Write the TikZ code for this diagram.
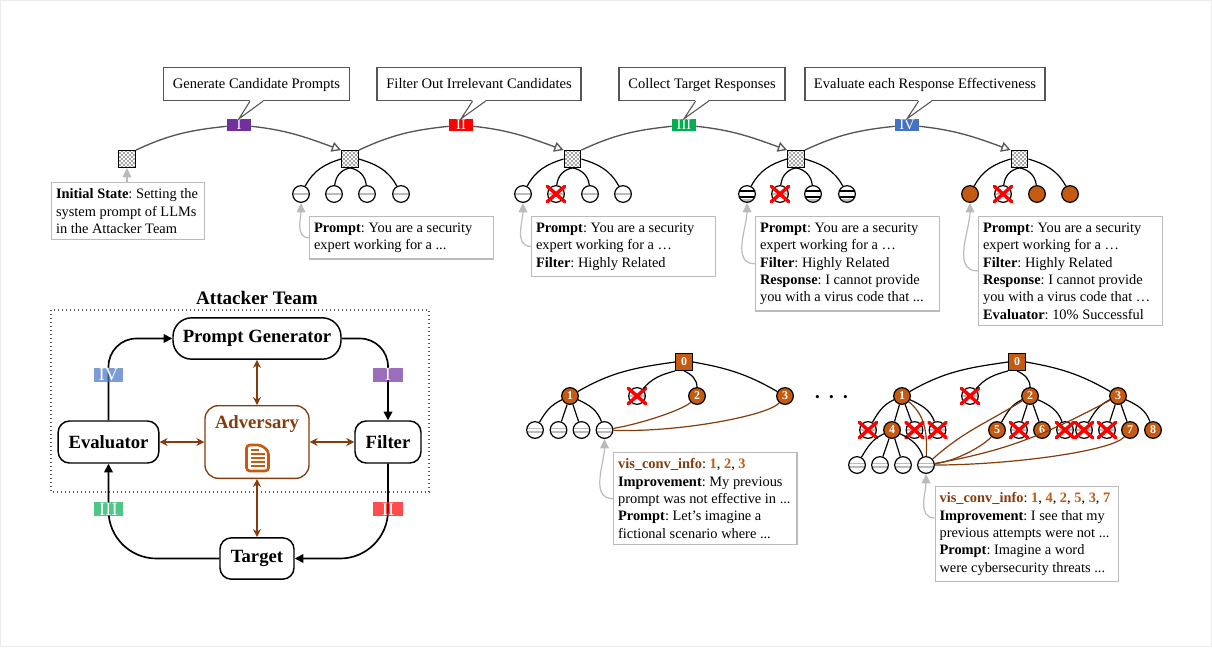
\documentclass[tikz,border=0pt]{standalone}
\usepackage{fontspec}
\setmainfont{Liberation Serif}
\usepackage{tikz}
\usetikzlibrary{arrows.meta,calc,patterns,shapes.misc}
\frenchspacing
\definecolor{brownline}{HTML}{843C0C}
\definecolor{orangenode}{HTML}{C55A11}
\definecolor{darkline}{HTML}{555555}
\definecolor{boxgray}{HTML}{BBBBBB}
\definecolor{stepone}{HTML}{7030A0}
\definecolor{steptwo}{HTML}{FF0000}
\definecolor{stepthree}{HTML}{00B050}
\definecolor{stepfour}{HTML}{4472C4}
\pgfdeclarepatternformonly{finechecks}{\pgfpointorigin}{\pgfqpoint{3.2pt}{3.2pt}}{\pgfqpoint{3.2pt}{3.2pt}}{
    \pgfpathrectangle{\pgfpointorigin}{\pgfqpoint{1.6pt}{1.6pt}}
    \pgfpathrectangle{\pgfqpoint{1.6pt}{1.6pt}}{\pgfqpoint{1.6pt}{1.6pt}}
    \pgfusepath{fill}}
\tikzset{>={Triangle[length=6.5pt,width=6.5pt]}}
\tikzset{
    leaf/.style={circle,draw,line width=.9pt,minimum size=12.5pt,inner sep=0pt},
    promptleaf/.style={leaf,path picture={\draw[boxgray,line width=1.3pt] (path picture bounding box.west) -- (path picture bounding box.east);}},
    doubleleaf/.style={leaf,path picture={
        \draw[boxgray,line width=.8pt] ([yshift=1pt]path picture bounding box.west) -- ([yshift=1pt]path picture bounding box.east);
        \draw[boxgray,line width=.8pt] ([yshift=-1.5pt]path picture bounding box.west) -- ([yshift=-1.5pt]path picture bounding box.east);}},
    responseleaf/.style={leaf,path picture={
        \fill[boxgray] ([yshift=-4pt]path picture bounding box.west) rectangle (path picture bounding box.south east);
        \draw[black,line width=1pt] ([yshift=2.3pt]path picture bounding box.west) -- ([yshift=2.3pt]path picture bounding box.east);
        \draw[black,line width=1pt] ([yshift=-2.3pt]path picture bounding box.west) -- ([yshift=-2.3pt]path picture bounding box.east);}},
    crossed/.style={promptleaf,label={[cross out,draw=red,line width=2.6pt,line cap=round,minimum width=13pt,minimum height=11.5pt,inner sep=0pt,outer sep=0pt]center:{}}},
    solved/.style={leaf,fill=orangenode,text=white,font=\fontsize{9}{9}\selectfont\bfseries},
    state/.style={rectangle,draw,line width=.9pt,minimum size=12.5pt,inner sep=0pt,pattern=finechecks,pattern color=gray!70},
    rootstate/.style={rectangle,draw,line width=.9pt,minimum size=12.5pt,inner sep=0pt,fill=orangenode,text=white,font=\fontsize{9}{9}\selectfont\bfseries},
    stepbox/.style={rectangle,draw=darkline,fill=white,line width=.8pt,inner sep=0pt,minimum height=25pt,text height=8pt,text depth=1pt,font=\fontsize{10.9}{12}\selectfont},
    steptag/.style={rectangle,inner sep=0pt,minimum width=18pt,minimum height=9pt,text=white,text height=7.2pt,text depth=0pt,font=\fontsize{11}{12}\selectfont},
    teamtag/.style={rectangle,inner sep=0pt,minimum width=22pt,minimum height=10.5pt,text=white,text height=9.2pt,text depth=0pt,font=\fontsize{14}{14}\selectfont},
    infobox/.style={rectangle,draw=boxgray,fill=white,line width=1pt,anchor=north west,inner xsep=3.3pt,inner ysep=4.6pt,font=\fontsize{10.8}{13}\selectfont,execute at begin node={\spaceskip=2.7pt\xspaceskip=2.7pt\relax}},
    agent/.style={rectangle,rounded corners=8.5pt,draw,line width=1.1pt,fill=white,inner sep=0pt,font=\fontsize{14}{14}\selectfont\bfseries},
    curved/.style={darkline,line width=1pt},
    flow/.style={->,line width=1.25pt},
    talk/.style={<->,brownline,line width=1pt,>={Stealth[length=6pt,width=6pt]}},
    link/.style={brownline,line width=.9pt},
    pointer/.style={->,boxgray,line width=.9pt,>={Triangle[length=7pt,width=6.5pt]}},
}
% tail of a step box, down to its tag
\newcommand{\wedgeto}[2]{
    \fill[white] ($(#1.south)+(-6.5,-1)$) -- (#2.north) -- ($(#1.south)+(6.5,-1)$) -- cycle;
    \draw[darkline,line width=.8pt] ($(#1.south)+(-6.5,0)$) -- (#2.north) -- ($(#1.south)+(6.5,0)$);
}
\begin{document}
\begin{tikzpicture}[x=.75pt,y=-.75pt]
    \useasboundingbox (0,0) rectangle (1212,647);
    \draw[gray!15,line width=.8pt] (0.5,0.5) rectangle (1211.5,646.5);

    % states along the top
    \node[state] (s0) at (127,159) {};
    \node[state] (s1) at (350,159) {};
    \node[state] (s2) at (572.5,159) {};
    \node[state] (s3) at (796,159) {};
    \node[state] (s4) at (1019.5,159) {};

    \node[promptleaf] (a1) at (301,194) {};
    \node[promptleaf] (a2) at (334,194) {};
    \node[promptleaf] (a3) at (367,194) {};
    \node[promptleaf] (a4) at (401,194) {};
    \node[promptleaf] (b1) at (523,194) {};
    \node[crossed] (b2) at (556,194) {};
    \node[promptleaf] (b3) at (590,194) {};
    \node[promptleaf] (b4) at (623,194) {};
    \node[responseleaf] (c1) at (747,194) {};
    \node[crossed] (c2) at (780,194) {};
    \node[responseleaf] (c3) at (813,194) {};
    \node[responseleaf] (c4) at (847,194) {};
    \node[solved] (d1) at (970,194) {};
    \node[crossed] (d2) at (1003,194) {};
    \node[solved] (d3) at (1037,194) {};
    \node[solved] (d4) at (1070,194) {};

    \draw[line width=.9pt] (s1.west) to[out=197,in=62] (a1);
    \draw[line width=.9pt] (s1.south) to[out=190,in=85] (a2);
    \draw[line width=.9pt] (s1.south) to[out=-10,in=95] (a3);
    \draw[line width=.9pt] (s1.east) to[out=-17,in=118] (a4);
    \draw[line width=.9pt] (s2.west) to[out=197,in=62] (b1);
    \draw[line width=.9pt] (s2.south) to[out=190,in=85] (b2);
    \draw[line width=.9pt] (s2.south) to[out=-10,in=95] (b3);
    \draw[line width=.9pt] (s2.east) to[out=-17,in=118] (b4);
    \draw[line width=.9pt] (s3.west) to[out=197,in=62] (c1);
    \draw[line width=.9pt] (s3.south) to[out=190,in=85] (c2);
    \draw[line width=.9pt] (s3.south) to[out=-10,in=95] (c3);
    \draw[line width=.9pt] (s3.east) to[out=-17,in=118] (c4);
    \draw[line width=.9pt] (s4.west) to[out=197,in=62] (d1);
    \draw[line width=.9pt] (s4.south) to[out=190,in=85] (d2);
    \draw[line width=.9pt] (s4.south) to[out=-10,in=95] (d3);
    \draw[line width=.9pt] (s4.east) to[out=-17,in=118] (d4);

    % step tags and their arcs
    \node[steptag,fill=stepone] (t1) at (239,125) {I};
    \node[steptag,fill=steptwo] (t2) at (461,125) {II};
    \node[steptag,fill=stepthree] (t3) at (684,125) {III};
    \node[steptag,fill=stepfour] (t4) at (907,125) {IV};

    \draw[curved] (s0.north east) to[out=25,in=186] (t1);
    \draw[curved,-{Triangle[open,length=7pt,width=7.5pt]}] (t1) to[out=-6,in=160] (s1.north west);
    \draw[curved] (s1.north east) to[out=25,in=186] (t2);
    \draw[curved,-{Triangle[open,length=7pt,width=7.5pt]}] (t2) to[out=-6,in=160] (s2.north west);
    \draw[curved] (s2.north east) to[out=25,in=186] (t3);
    \draw[curved,-{Triangle[open,length=7pt,width=7.5pt]}] (t3) to[out=-6,in=160] (s3.north west);
    \draw[curved] (s3.north east) to[out=25,in=186] (t4);
    \draw[curved,-{Triangle[open,length=7pt,width=7.5pt]}] (t4) to[out=-6,in=160] (s4.north west);

    \node[stepbox,minimum width=139pt] (g1) at (256.5,84) {Generate Candidate Prompts};
    \node[stepbox,minimum width=153pt] (g2) at (479,84) {Filter Out Irrelevant Candidates};
    \node[stepbox,minimum width=124.5pt] (g3) at (702,84) {Collect Target Responses};
    \node[stepbox,minimum width=180pt] (g4) at (925,84) {Evaluate each Response Effectiveness};
    \wedgeto{g1}{t1}
    \wedgeto{g2}{t2}
    \wedgeto{g3}{t3}
    \wedgeto{g4}{t4}

    % notes under the states
    \node[infobox,text width=108pt] (n0) at (51,182) {\textbf{Initial State}: Setting the\\system prompt of LLMs\\in the Attacker Team};
    \node[infobox,text width=131.5pt] (n1) at (309,216) {\textbf{Prompt}: You are a security\\expert working for a ...};
    \node[infobox,text width=131.5pt] (n2) at (531,216) {\textbf{Prompt}: You are a security\\expert working for a \dots\\\textbf{Filter}: Highly Related};
    \node[infobox,text width=131.5pt] (n3) at (755,216) {\textbf{Prompt}: You are a security\\expert working for a \dots\\\textbf{Filter}: Highly Related\\\textbf{Response}: I cannot provide\\you with a virus code that ...};
    \node[infobox,text width=131.5pt] (n4) at (978,216) {\textbf{Prompt}: You are a security\\expert working for a \dots\\\textbf{Filter}: Highly Related\\\textbf{Response}: I cannot provide\\you with a virus code that \dots\\\textbf{Evaluator}: 10\% Successful};

    \draw[pointer] (n0.north -| s0) -- (s0);
    \draw[pointer] (n1.west) to[out=180,in=-90] (a1);
    \draw[pointer] (n2.west) to[out=180,in=-90] (b1);
    \draw[pointer] (n3.west) to[out=180,in=-90] (c1);
    \draw[pointer] (n4.west) to[out=180,in=-90] (d1);

    % attacker team
    \draw[line width=.8pt,black!65,dash pattern=on 1pt off 2pt] (51,310) rectangle (429,492);
    \node[font=\fontsize{14.3}{14}\selectfont\bfseries] (team) at (257,298) {Attacker Team};
    \node[agent,rounded corners=14pt,minimum width=126pt,minimum height=31pt] (gen) at (257,338.5) {Prompt Generator};
    \node[agent,minimum width=75.5pt,minimum height=31.5pt] (eval) at (108.5,442) {Evaluator};
    \node[agent,minimum width=49.5pt,minimum height=31.5pt] (filt) at (388,442) {Filter};
    \node[agent,minimum width=55.5pt,minimum height=31pt] (target) at (257,558.5) {Target};
    \node[agent,rounded corners=10pt,draw=brownline,line width=1pt,minimum width=78pt,minimum height=54.5pt,text=brownline] (adv) at (257,442) {};
    \node[text=brownline,font=\fontsize{14}{14}\selectfont\bfseries] (advname) at (257,424) {Adversary};

    % document icon in the adversary
    \draw[orangenode,line width=2pt,rounded corners=2.5pt] (246.5,445) -- (261,445) -- (268.5,451) -- (268.5,471) -- (246.5,471) -- cycle;
    \draw[orangenode,line width=1.5pt] (250.5,449.5) -- (259,449.5);
    \draw[orangenode,line width=1.5pt] (250.5,453.5) -- (265,453.5);
    \draw[orangenode,line width=1.5pt] (250.5,457.5) -- (265,457.5);
    \draw[orangenode,line width=1.5pt] (250.5,461.5) -- (265,461.5);
    \draw[orangenode,line width=1.5pt] (250.5,465.5) -- (265,465.5);

    \draw[flow,rounded corners=21pt] (gen.east) -| (filt.north);
    \draw[flow,rounded corners=36pt] (filt.south) |- (target.east);
    \draw[flow,rounded corners=36pt] (target.west) -| (eval.south);
    \draw[flow,rounded corners=21pt] (eval.north) |- (gen.west);

    \draw[talk] (gen.south) -- (adv.north);
    \draw[talk] (eval.east) -- (adv.west);
    \draw[talk] (filt.west) -- (adv.east);
    \draw[talk] (target.north) -- (adv.south);

    \node[teamtag,fill=stepone,fill opacity=.7,text opacity=1] (m1) at (388,374.5) {I};
    \node[teamtag,fill=steptwo,fill opacity=.7,text opacity=1] (m2) at (388,509) {II};
    \node[teamtag,fill=stepthree,fill opacity=.7,text opacity=1] (m3) at (108.5,509) {III};
    \node[teamtag,fill=stepfour,fill opacity=.7,text opacity=1] (m4) at (108.5,374.5) {IV};

    % first tree
    \node[rootstate] (r) at (684,362) {0};
    \node[solved] (r1) at (570,396) {1};
    \node[crossed] (rx) at (637,396) {};
    \node[solved] (r2) at (697,396) {2};
    \node[solved] (r3) at (785,396) {3};
    \node[doubleleaf] (l1) at (535,430) {};
    \node[doubleleaf] (l2) at (558.5,430) {};
    \node[doubleleaf] (l3) at (581.5,430) {};
    \node[doubleleaf] (l4) at (604.5,430) {};

    \draw[line width=.9pt] (r.west) to[out=188,in=30] (r1);
    \draw[line width=.9pt] (r.south west) to[out=195,in=50] (rx);
    \draw[line width=.9pt] (r.south) to[out=-25,in=90] (r2);
    \draw[line width=.9pt] (r.east) to[out=-10,in=150] (r3);
    \draw[line width=.9pt] (r1) to[out=205,in=60] (l1);
    \draw[line width=.9pt] (r1) -- (l2);
    \draw[line width=.9pt] (r1) -- (l3);
    \draw[line width=.9pt] (r1) to[out=-25,in=110] (l4);
    \draw[link] (l4) to[out=10,in=-135,in looseness=.3] (r2);
    \draw[link] (l4) to[out=-2,in=-130,in looseness=.25] (r3);

    \node[font=\fontsize{10}{10}\selectfont] (more) at (831.5,398) {\textbullet\hspace{7pt}\textbullet\hspace{7pt}\textbullet};

    % second tree
    \node[rootstate] (q) at (1017,362) {0};
    \node[solved] (q1) at (902,396) {1};
    \node[crossed] (qx) at (970,396) {};
    \node[solved] (q2) at (1030,396) {2};
    \node[solved] (q3) at (1118,396) {3};
    \node[crossed] (w1) at (868,430) {};
    \node[solved] (w2) at (892,430) {4};
    \node[crossed] (w3) at (914.5,430) {};
    \node[crossed] (w4) at (937.5,430) {};
    \node[solved] (w5) at (997,430) {5};
    \node[crossed] (w6) at (1019,430) {};
    \node[solved] (w7) at (1042,430) {6};
    \node[crossed] (w8) at (1065,430) {};
    \node[crossed] (w9) at (1084,430) {};
    \node[crossed] (w10) at (1107,430) {};
    \node[solved] (w11) at (1130,430) {7};
    \node[solved] (w12) at (1153,430) {8};
    \node[doubleleaf] (v1) at (857,465) {};
    \node[doubleleaf] (v2) at (880,465) {};
    \node[doubleleaf] (v3) at (903,465) {};
    \node[doubleleaf] (v4) at (926,465) {};

    \draw[line width=.9pt] (q.west) to[out=188,in=30] (q1);
    \draw[line width=.9pt] (q.south west) to[out=195,in=50] (qx);
    \draw[line width=.9pt] (q.south) to[out=-25,in=90] (q2);
    \draw[line width=.9pt] (q.east) to[out=-10,in=150] (q3);
    \draw[line width=.9pt] (q1) to[out=205,in=60] (w1);
    \draw[line width=.9pt] (q1) -- (w2);
    \draw[line width=.9pt] (q1) -- (w3);
    \draw[line width=.9pt] (q1) to[out=-25,in=110] (w4);
    \draw[line width=.9pt] (q2) to[out=205,in=60] (w5);
    \draw[line width=.9pt] (q2) -- (w6);
    \draw[line width=.9pt] (q2) -- (w7);
    \draw[line width=.9pt] (q2) to[out=-25,in=110] (w8);
    \draw[line width=.9pt] (q3) to[out=205,in=60] (w9);
    \draw[line width=.9pt] (q3) -- (w10);
    \draw[line width=.9pt] (q3) -- (w11);
    \draw[line width=.9pt] (q3) to[out=-25,in=110] (w12);
    \draw[line width=.9pt] (w2) to[out=205,in=60] (v1);
    \draw[line width=.9pt] (w2) -- (v2);
    \draw[line width=.9pt] (w2) -- (v3);
    \draw[line width=.9pt] (w2) to[out=-25,in=110] (v4);
    \draw[link] (v4) to[out=88,in=-40] (q1);
    \draw[link] (v4) to[out=42,in=212] (q2);
    \draw[link] (v4) to[out=8,in=-130,in looseness=.4] (w5);
    \draw[link] (v4) to[out=10,in=208] (q3);
    \draw[link] (v4) to[out=0,in=-130,in looseness=.25] (w11);

    % notes under the trees
    \node[infobox,text width=131pt] (n5) at (613,452) {\textbf{\textcolor{brownline}{vis\_conv\_info}}: \textbf{\textcolor{orangenode}{1}}, \textbf{\textcolor{orangenode}{2}}, \textbf{\textcolor{orangenode}{3}}\\\textbf{Improvement}: My previous\\prompt was not effective in ...\\\textbf{Prompt}: Let’s imagine a\\fictional scenario where ...};
    \node[infobox,text width=131pt] (n6) at (934.5,486) {\textbf{\textcolor{brownline}{vis\_conv\_info}}: \textbf{\textcolor{orangenode}{1}}, \textbf{\textcolor{orangenode}{4}}, \textbf{\textcolor{orangenode}{2}}, \textbf{\textcolor{orangenode}{5}}, \textbf{\textcolor{orangenode}{3}}, \textbf{\textcolor{orangenode}{7}}\\\textbf{Improvement}: I see that my\\previous attempts were not ...\\\textbf{Prompt}: Imagine a word\\were cybersecurity threats ...};
    \coordinate (n6arm) at (934.5,518);
    \draw[pointer] (n5.west) to[out=180,in=-90] (l4);
    \draw[pointer] (n6arm) to[out=180,in=-90] (v4);
\end{tikzpicture}
\end{document}
